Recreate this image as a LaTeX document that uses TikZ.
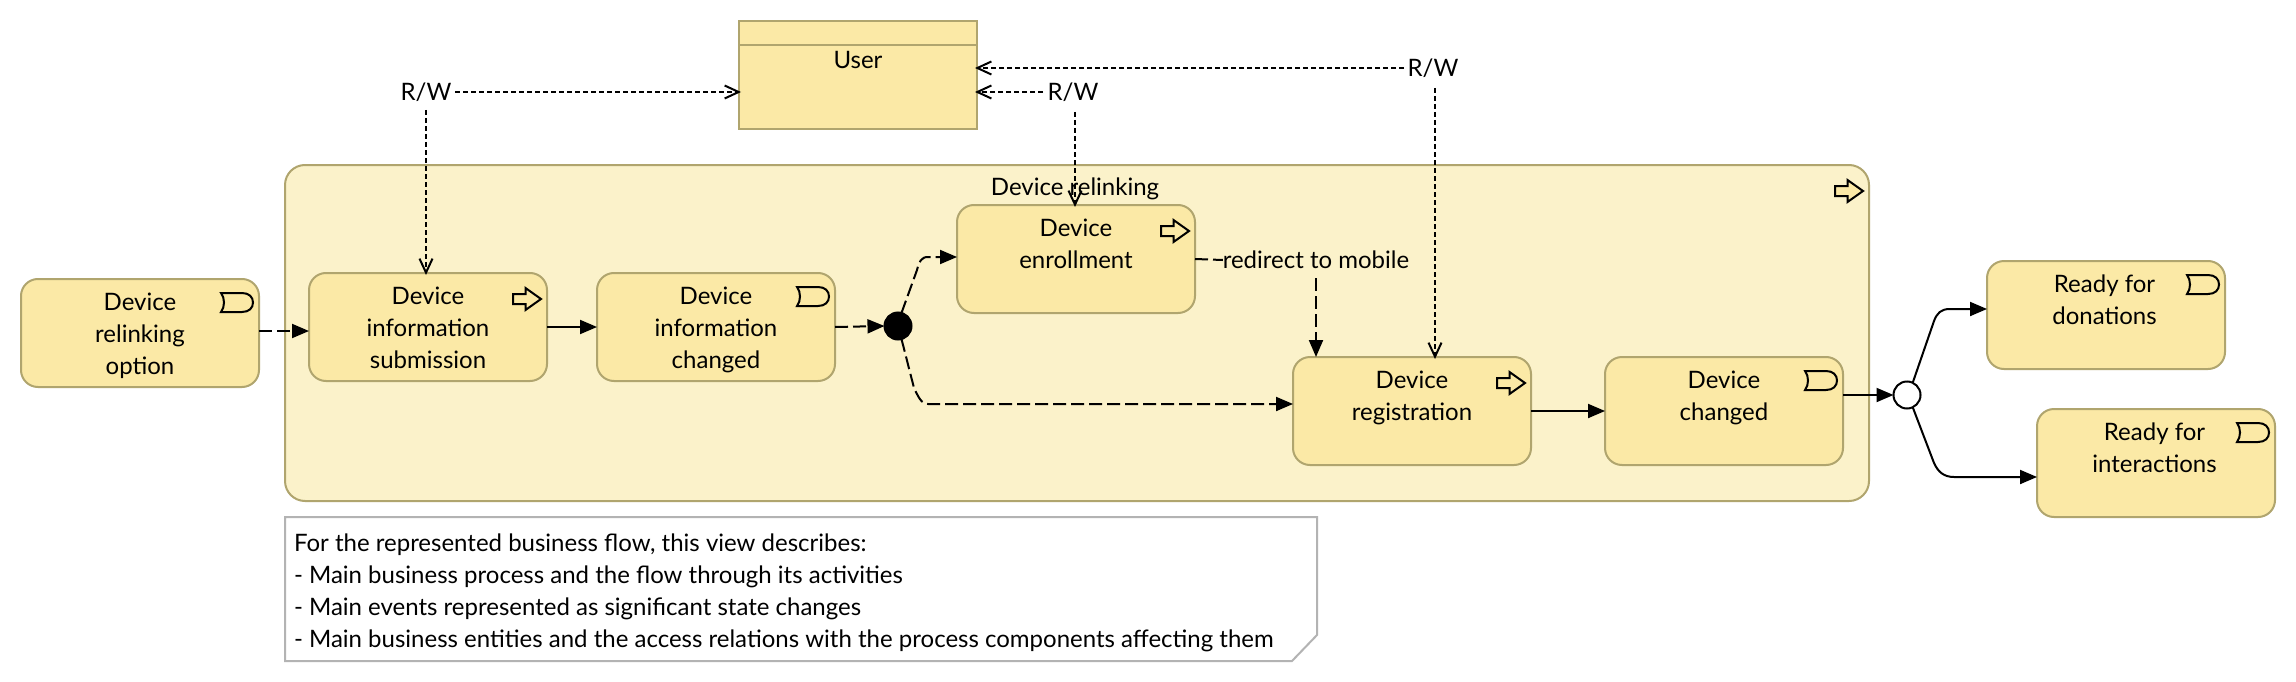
\documentclass[tikz,border=0pt]{standalone}
\usepackage{fontspec}
\setmainfont{Lato}
\usetikzlibrary{arrows.meta}
\definecolor{fl}{HTML}{FBE9A6}
\definecolor{cf}{HTML}{FBF2CA}
\definecolor{bd}{HTML}{B0A56E}
\definecolor{nb}{HTML}{B3B3B3}
\newcommand{\bodyf}{\fontsize{24}{32}\selectfont}
\newcommand{\bt}[1]{\parbox[c][108pt][t]{238pt}{\centering\rule{0pt}{31pt}#1}}
\newcommand{\procicon}[1]{%
  \draw[shift={(#1.north east)},line width=2pt,fill=fl,line join=miter]
    (-34,21) -- (-21.5,21) -- (-21.5,15) -- (-6,26) -- (-21.5,37) -- (-21.5,31) -- (-34,31) -- cycle;}
\newcommand{\eventicon}[1]{%
  \draw[shift={(#1.north east)},line width=2pt]
    (-38,14) -- (-17,14) .. controls (-10,14) and (-6,18) .. (-6,23.5) .. controls (-6,29) and (-10,33) .. (-17,33) -- (-38,33)
    .. controls (-34,28) and (-34,19) .. (-38,14) -- cycle;}
\tikzset{
  x=1pt,y=-1pt,
  every node/.style={outer sep=0pt},
  elem/.style={draw=bd,fill=fl,line width=2pt,rounded corners=17pt,inner sep=0pt,font=\bodyf},
  plain/.style={inner sep=0pt,font=\bodyf},
  flow/.style={line width=2pt,dash pattern=on 13pt off 5pt,-{Triangle[length=17pt,width=14pt]}},
  trig/.style={line width=2pt,-{Triangle[length=17pt,width=14pt]}},
  access/.style={line width=2pt,dash pattern=on 5pt off 3pt,-{Straight Barb[length=14pt,width=13pt]},shorten >=-2pt},
}
\begin{document}
\begin{tikzpicture}
\useasboundingbox[fill=white] (0,0) rectangle (2296,682);
% container
\node[draw=bd,fill=cf,line width=2pt,rounded corners=20pt,minimum width=1584pt,minimum height=336pt,inner sep=0pt] (cont) at (1077,333) {};
\node[plain] (conttitle) at (1075,189) {Device relinking};
% note
\draw[draw=nb,fill=white,line width=2pt] (285,517) -- (1317,517) -- (1317,635) -- (1292,661) -- (285,661) -- cycle;
\node[plain,anchor=north west] (note) at (294,520) {\parbox[t]{1010pt}{\rule{0pt}{31pt}For the represented business flow, this view describes:\\- Main business process and the flow through its activities\\- Main events represented as significant state changes\\- Main business entities and the access relations with the process components affecting them}};
% user
\node[draw=bd,fill=fl,line width=2pt,inner sep=0pt,font=\bodyf] (user) at (858,75) {\parbox[c][108pt][t]{238pt}{\centering\rule{0pt}{48pt}User}};
\draw[draw=bd,line width=2pt] (user.west |- 0,45) -- (user.east |- 0,45);
% boxes
\node[elem] (opt) at (140,333) {\bt{Device\\relinking\\option}};
\node[elem] (sub) at (428,327) {\bt{Device\\information\\submission}};
\node[elem] (chg) at (716,327) {\bt{Device\\information\\changed}};
\node[elem] (enr) at (1076,259) {\bt{Device\\enrollment}};
\node[elem] (reg) at (1412,411) {\bt{Device\\registration}};
\node[elem] (dch) at (1724,411) {\bt{Device\\changed}};
\node[elem] (don) at (2106,315) {\bt{\hspace*{-3pt}Ready for\\\hspace*{-3pt}donations}};
\node[elem] (int) at (2156,463) {\bt{\hspace*{-3pt}Ready for\\\hspace*{-3pt}interactions}};
% junctions
\node[circle,draw=black,fill=black,line width=2pt,minimum size=27pt,inner sep=0pt] (j1) at (898,326) {};
\node[circle,draw=black,fill=white,line width=2pt,minimum size=27pt,inner sep=0pt] (j2) at (1907,395) {};
% labels
\node[plain,minimum width=58pt,minimum height=36pt] (rw1) at (426,92) {R/W};
\node[plain,minimum width=60pt,minimum height=40pt] (rw2) at (1073,92) {R/W};
\node[plain,minimum width=58pt,minimum height=40pt] (rw3) at (1433,68) {R/W};
\node[plain,minimum width=186pt,minimum height=36pt] (red) at (1316,260) {redirect to mobile};
% connectors
\draw[access] (rw1.east) -- (user.west |- rw1.east);
\draw[access] (rw1.south) -- (rw1.south |- sub.north);
\draw[access] (rw2.west) -- (user.east |- rw2.west);
\draw[access] ([xshift=2pt]rw2.south) -- ([xshift=2pt]rw2.south |- enr.north);
\draw[access] (rw3.west) -- (user.east |- rw3.west);
\draw[access] ([xshift=2pt]rw3.south) -- ([xshift=2pt]rw3.south |- reg.north);
\draw[flow] ([yshift=2pt]opt.east) -- ([yshift=-4pt]sub.west);
\draw[trig] (sub.east) -- (chg.west);
\draw[flow] (chg.east) -- (j1.west);
\draw[flow] (j1.75) -- (917,270) .. controls (919,262) and (921,257) .. (928,257) -- ([yshift=2pt]enr.west);
\draw[flow] (j1.285) -- (914,388) .. controls (918,396) and (921,404) .. (928,404) -- ([yshift=7pt]reg.west);
\draw[line width=2pt,dash pattern=on 13pt off 5pt] (enr.east) -- (red.west);
\draw[flow] (red.south) -- (red.south |- reg.north);
\draw[trig] (reg.east) -- (dch.west);
\draw[trig] ([yshift=16pt]dch.east) -- (j2.west);
\draw[trig] (j2.65) -- (1934,321) .. controls (1937,313) and (1941,309) .. (1950,309) -- ([yshift=6pt]don.west);
\draw[trig] (j2.295) -- (1934,463) .. controls (1938,472) and (1944,477) .. (1954,477) -- ([yshift=-14pt]int.west);
% icons
\eventicon{opt}
\procicon{sub}
\eventicon{chg}
\procicon{enr}
\procicon{reg}
\eventicon{dch}
\eventicon{don}
\eventicon{int}
\procicon{cont}
\end{tikzpicture}
\end{document}
